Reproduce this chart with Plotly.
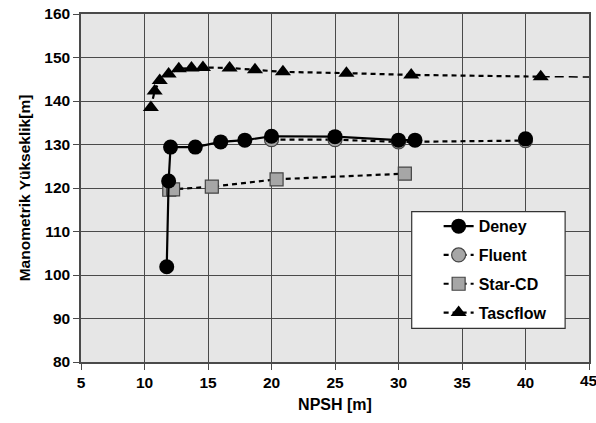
import plotly.graph_objects as go

# --- data ---
deney_x = [11.75, 11.9, 12.05, 14.0, 16.0, 17.9, 20.0, 25.0, 30.0, 31.3, None, 40.0]
deney_y = [101.9, 121.6, 129.4, 129.4, 130.6, 131.0, 131.9, 131.8, 131.0, 131.0, None, 131.3]

fluent_x = [20.0, 25.0, 30.0, 40.0]
fluent_y = [131.1, 131.1, 130.6, 130.9]

star_x = [11.95, 12.25, 15.3, 20.4, 30.5]
star_y = [119.6, 119.7, 120.3, 122.0, 123.3]

tasc_x = [10.5, 10.8, 11.2, 11.9, 12.7, 13.7, 14.6, 16.7, 18.7, 20.9, 25.9, 31.0, 41.2]
tasc_y = [138.5, 142.3, 144.7, 146.2, 147.4, 147.6, 147.7, 147.6, 147.2, 146.7, 146.4, 146.0, 145.6]

tail_x = [41.2, 46.0]
tail_y = [145.6, 145.5]

x_ticks = [5, 10, 15, 20, 25, 30, 35, 40, 45]
y_ticks = [80, 90, 100, 110, 120, 130, 140, 150, 160]

FONT = "Liberation Sans, Arial, sans-serif"
DASH = "5px,4px"

fig = go.Figure()

fig.add_trace(go.Scatter(
    x=tasc_x, y=tasc_y, name="Tascflow", mode="lines+markers",
    line=dict(color="black", width=2.2, dash=DASH),
    marker=dict(symbol="triangle-up", size=14, color="black"),
    legendgroup="d", legendrank=4,
))
fig.add_trace(go.Scatter(
    x=tail_x, y=tail_y, mode="lines", showlegend=False,
    line=dict(color="black", width=1.5, dash="9px,5px"),
))
fig.add_trace(go.Scatter(
    x=star_x, y=star_y, name="Star-CD", mode="lines+markers",
    line=dict(color="black", width=2.2, dash=DASH),
    marker=dict(symbol="square", size=13, color="#a6a6a6",
                line=dict(color="#444444", width=1.2)),
    legendgroup="c", legendrank=3,
))
fig.add_trace(go.Scatter(
    x=fluent_x, y=fluent_y, name="Fluent", mode="lines+markers",
    line=dict(color="black", width=2.2, dash=DASH),
    marker=dict(symbol="circle", size=14, color="#a6a6a6",
                line=dict(color="#444444", width=1.2)),
    legendgroup="b", legendrank=2,
))
fig.add_trace(go.Scatter(
    x=deney_x, y=deney_y, name="Deney", mode="lines+markers",
    line=dict(color="black", width=2.2),
    marker=dict(symbol="circle", size=15, color="black"),
    connectgaps=False,
    legendgroup="a", legendrank=1,
))

axis_common = dict(
    showgrid=True, gridcolor="#4a4a4a", gridwidth=1.3,
    showline=True, linecolor="#4a4a4a", linewidth=1.5, mirror=True,
    ticks="outside", ticklen=6, tickcolor="#4a4a4a", tickwidth=1.3,
    tickfont=dict(family=FONT, size=15.5, color="black", weight="bold"),
    zeroline=False,
)

fig.update_layout(
    width=596, height=423,
    margin=dict(l=81, r=5, t=10, b=61),
    paper_bgcolor="white", plot_bgcolor="#e6e6e6",
    font=dict(family=FONT, color="black"),
    xaxis=dict(range=[5, 45], tickvals=x_ticks,
               title=dict(text="NPSH [m]", standoff=8,
                          font=dict(family=FONT, size=16, weight="bold")),
               **axis_common),
    yaxis=dict(range=[80, 160], tickvals=y_ticks,
               title=dict(text="Manometrik Yükseklik[m]", standoff=10,
                          font=dict(family=FONT, size=15.5, weight="bold")),
               **axis_common),
    legend=dict(
        x=0.704, y=0.439, xanchor="left", yanchor="top",
        bgcolor="rgba(0,0,0,0)", borderwidth=0,
        font=dict(family=FONT, size=16, weight="bold"),
        tracegroupgap=5, traceorder="grouped",
    ),
    showlegend=True,
    shapes=[dict(
        type="rect", xref="paper", yref="paper",
        x0=0.651, x1=0.953, y0=0.0966, y1=0.432,
        fillcolor="white", line=dict(color="#333333", width=1.2),
        layer="above",
    )],
    annotations=[dict(
        x=45, y=0, xref="x", yref="paper", text="45", showarrow=False,
        yanchor="top", yshift=-8,
        font=dict(family=FONT, size=15.5, color="black", weight="bold"),
    )],
)

fig.write_html("out.html")
